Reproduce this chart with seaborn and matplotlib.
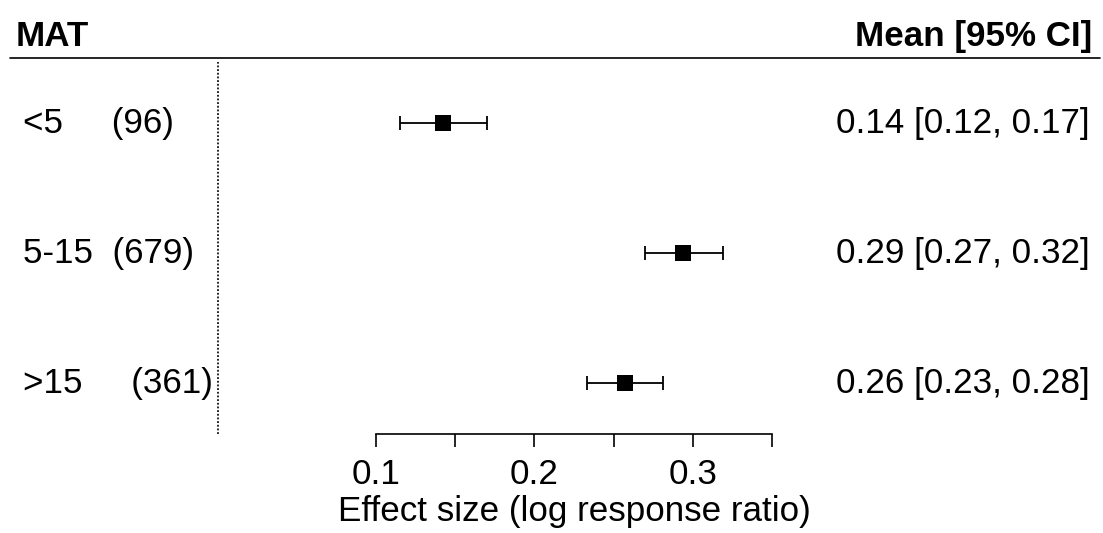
import numpy as np
import pandas as pd
import matplotlib
matplotlib.use("Agg")
import matplotlib.pyplot as plt
import seaborn as sns
from matplotlib.transforms import blended_transform_factory

# ---- data ----
categories = ["<5", "5-15", ">15"]
counts = [96, 679, 361]
label_pads = ["     ", "  ", "     "]
means = [0.142, 0.294, 0.257]
ci_low = [0.115, 0.270, 0.233]
ci_high = [0.170, 0.319, 0.281]
mean_labels = ["0.14", "0.29", "0.26"]
low_labels = ["0.12", "0.27", "0.23"]
high_labels = ["0.17", "0.32", "0.28"]
xticks = [0.1, 0.15, 0.2, 0.25, 0.3, 0.35]
xtick_labels = ["0.1", "", "0.2", "", "0.3", ""]
header_left = "MAT"
header_right = "Mean [95% CI]"
xlabel = "Effect size (log response ratio)"

sns.set_theme(style="white")
plt.rcParams['font.family'] = ['Liberation Sans', 'DejaVu Sans']

df = pd.DataFrame({"cat": categories, "n": counts, "mean": means,
                   "lo": ci_low, "hi": ci_high})
df["row"] = np.arange(len(df), 0, -1)

W, H = 1103, 533
FS = 25.2
fig = plt.figure(figsize=(W / 100, H / 100), dpi=100)
fig.patch.set_facecolor("white")
ax = fig.add_axes([0, 99 / H, 1, 434 / H])
ax.set_facecolor("white")

ppu = 1584.0
x0 = 217.6
ax.set_xlim(-x0 / ppu, (W - x0) / ppu)
ybot = 1 - 51 / 130
ytop = 1 + 383 / 130
ax.set_ylim(ybot, ytop)

# CIs
ax.errorbar(df["mean"], df["row"],
            xerr=[df["mean"] - df["lo"], df["hi"] - df["mean"]],
            fmt="none", ecolor="black", elinewidth=1.3, capsize=5,
            capthick=1.3, zorder=2)
sns.scatterplot(data=df, x="mean", y="row", marker="s", s=11.5 ** 2,
                color="black", edgecolor="black", linewidth=0, ax=ax,
                zorder=3, legend=False)

# reference line at 0
ax.axvline(0, ymin=0, ymax=(3.469 - ybot) / (ytop - ybot), color="black",
           lw=1.2, linestyle=(0, (1.1, 1.1)), zorder=1)
# header line
ax.axhline(3.5, xmin=10 / W, xmax=1100 / W, color="black", lw=1.2)

tr_left = blended_transform_factory(fig.transFigure, ax.transData)
for _, r in df.iterrows():
    i = int(3 - r["row"])
    ax.text(23 / W, r["row"], f"{r['cat']}{label_pads[i]}({r['n']})",
            transform=tr_left, ha="left", va="center", fontsize=FS,
            color="black")
    ax.text(1090 / W, r["row"],
            f"{mean_labels[i]} [{low_labels[i]}, {high_labels[i]}]",
            transform=tr_left, ha="right", va="center", fontsize=FS,
            color="black")

ax.text(16 / W, 3.665, header_left, transform=tr_left, ha="left",
        va="center", fontsize=FS, fontweight="bold", color="black")
ax.text(1092 / W, 3.665, header_right, transform=tr_left, ha="right",
        va="center", fontsize=FS, fontweight="bold", color="black")

# axis
for s in ["left", "right", "top"]:
    ax.spines[s].set_visible(False)
ax.spines["bottom"].set_bounds(xticks[0], xticks[-1])
ax.spines["bottom"].set_linewidth(1.2)
ax.spines["bottom"].set_color("black")
ax.set_xticks(xticks)
ax.set_xticklabels(xtick_labels)
ax.set_yticks([])
ax.tick_params(axis="x", bottom=True, direction="out", length=9.4,
               width=1.2, color="black", pad=8, labelsize=FS,
               labelcolor="black")
ax.set_ylabel("")
ax.set_xlabel(xlabel, fontsize=FS, color="black")
ax.xaxis.set_label_coords(0.225, 0.0,
                          transform=blended_transform_factory(ax.transData, fig.transFigure))
ax.xaxis.label.set_va("bottom")
ax.xaxis.label.set_position((0.225, 5 / H))

fig.savefig("out.png", dpi=100, facecolor="white")
